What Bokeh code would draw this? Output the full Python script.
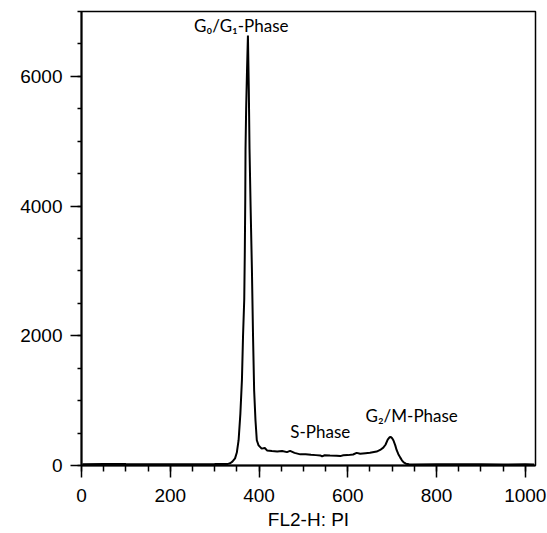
from bokeh.plotting import figure
from bokeh.models import Range1d, SingleIntervalTicker
from bokeh.embed import file_html
from bokeh.resources import INLINE
from bokeh.core.properties import value

# FL2-H channel and event counts
channel = [2, 50, 100, 150, 200, 250, 300, 330, 335, 340, 346, 350, 354, 358,
           361.5, 364, 366.7, 368, 369, 369.6, 371, 373, 375, 377, 378.6, 381,
           384, 386.5, 389, 392, 395, 399, 406, 413, 418, 429, 441, 452, 463,
           470, 480, 493, 505, 517, 528, 538, 542, 548, 560, 575, 583, 590,
           600, 612, 620, 628, 640, 650, 665, 673, 680, 685, 690, 694, 697,
           700, 703, 707, 710, 714, 718, 722, 726, 731, 738, 745, 800, 850,
           900, 950, 1000, 1020]
counts = [20, 25, 22, 20, 18, 20, 22, 25, 35, 60, 110, 200, 390, 800,
          1320, 2000, 2560, 3300, 4100, 4880, 5500, 6100, 6630, 5800, 4880, 4000,
          3020, 2000, 1160, 700, 390, 310, 260, 270, 232, 222, 215, 225, 206,
          225, 195, 172, 175, 165, 160, 155, 140, 158, 155, 152, 145, 158,
          160, 170, 195, 180, 190, 195, 215, 240, 275, 320, 400, 435, 440,
          420, 385, 310, 240, 175, 125, 80, 48, 28, 18, 15, 18, 20,
          18, 16, 18, 15]

phase_labels = ["G\u2080/G\u2081-Phase", "S-Phase", "G\u2082/M-Phase"]
label_x = [360, 538, 744]
label_y = [6780, 520, 775]

p = figure(frame_width=454, frame_height=454,
           x_range=Range1d(0, 1023), y_range=Range1d(0, 7000),
           output_backend="svg", toolbar_location=None,
           min_border_left=81, min_border_top=11, min_border_right=12,
           min_border_bottom=66)

p.xgrid.visible = False
p.ygrid.visible = False
p.outline_line_color = "black"
p.outline_line_width = 1.5
p.background_fill_color = "white"
p.border_fill_color = "white"

p.line(channel, counts, line_color="black", line_width=2)

p.text(x=label_x, y=label_y, text=phase_labels,
       text_font=value("Lato"), text_font_size="17px",
       text_align="center", text_baseline="alphabetic", text_color="black")

xa = p.xaxis[0]
xa.ticker = SingleIntervalTicker(interval=200, num_minor_ticks=4)
xa.axis_label = "FL2-H: PI"
ya = p.yaxis[0]
ya.ticker = SingleIntervalTicker(interval=2000, num_minor_ticks=4)

for ax in (xa, ya):
    ax.axis_line_width = 2
    ax.axis_line_color = "black"
    ax.major_tick_line_color = "black"
    ax.minor_tick_line_color = "black"
    ax.major_tick_line_width = 1.5
    ax.minor_tick_line_width = 1.5
    ax.major_tick_in = 0
    ax.minor_tick_in = 0
    ax.major_label_text_font = "Liberation Sans"
    ax.major_label_text_font_size = "19px"
    ax.major_label_text_color = "black"
    ax.axis_label_text_font = "Liberation Sans"
    ax.axis_label_text_font_size = "19px"
    ax.axis_label_text_font_style = "normal"
    ax.axis_label_text_color = "black"

xa.major_tick_out = 12
xa.minor_tick_out = 6
xa.major_label_standoff = 11
xa.axis_label_standoff = 4
ya.major_tick_out = 11
ya.minor_tick_out = 4
ya.major_label_standoff = 8

open("out.html", "w").write(file_html(p, INLINE))
